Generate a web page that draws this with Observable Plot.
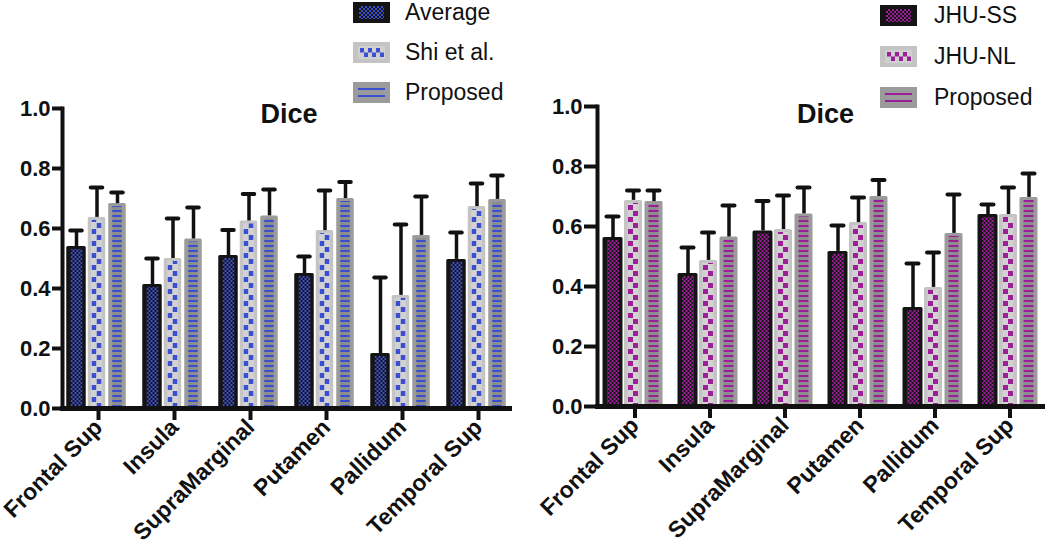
<!DOCTYPE html>
<html><head><meta charset="utf-8">
<script src="https://cdn.jsdelivr.net/npm/d3@7"></script>
<script src="https://cdn.jsdelivr.net/npm/@observablehq/plot@0.6"></script>
<style>
body{margin:0;background:#fff;font-family:"Liberation Sans",Arial,sans-serif;}
#wrap{position:relative;width:1050px;height:547px;overflow:hidden;background:#fff}
.panel{position:absolute;top:0}
.row{position:absolute;display:flex;align-items:center;white-space:nowrap;font-size:23px;color:#111;height:24px}
.row svg{display:block;flex:none}
</style></head><body>
<svg id="defs" width="0" height="0" style="position:absolute"><defs></defs></svg>
<div id="wrap"></div>
<script>
// ---------- data ----------
const regions = ["Frontal Sup", "Insula", "SupraMarginal", "Putamen", "Pallidum", "Temporal Sup"];
const yTicks = [0, 0.2, 0.4, 0.6, 0.8, 1.0];
const titleText = "Dice";

const leftSeries = ["Average", "Shi et al.", "Proposed"];
const rightSeries = ["JHU-SS", "JHU-NL", "Proposed"];

const averageMean = [0.54, 0.413, 0.51, 0.45, 0.183, 0.497];
const averageSD   = [0.053, 0.087, 0.085, 0.057, 0.254, 0.09];
const shiMean     = [0.637, 0.50, 0.625, 0.593, 0.377, 0.673];
const shiSD       = [0.10, 0.133, 0.09, 0.134, 0.236, 0.077];
const proposedMean = [0.683, 0.565, 0.642, 0.70, 0.577, 0.697];
const proposedSD   = [0.037, 0.105, 0.088, 0.055, 0.13, 0.08];
const jhuSSMean   = [0.563, 0.443, 0.585, 0.517, 0.33, 0.64];
const jhuSSSD     = [0.07, 0.087, 0.10, 0.086, 0.147, 0.033];
const jhuNLMean   = [0.687, 0.487, 0.59, 0.613, 0.397, 0.64];
const jhuNLSD     = [0.033, 0.093, 0.113, 0.084, 0.116, 0.09];

// ---------- styles ----------
const BLUE = "#3a4ed0", PURPLE = "#9c1f98";
const FONT = "Liberation Sans, Arial, sans-serif";

function patternDefs(key, color) {
  return `
  <pattern id="chk-${key}" width="4" height="4" patternUnits="userSpaceOnUse"><rect width="4" height="4" fill="#151515"/><rect width="2" height="2" fill="${color}"/><rect x="2" y="2" width="2" height="2" fill="${color}"/></pattern>
  <pattern id="rowA-${key}" width="1" height="12" patternUnits="userSpaceOnUse"><rect width="1" height="12" fill="#d2d2d2"/><rect y="1" width="1" height="5" fill="${color}"/></pattern>
  <pattern id="rowB-${key}" width="1" height="12" patternUnits="userSpaceOnUse"><rect width="1" height="12" fill="#d2d2d2"/><rect y="7" width="1" height="5" fill="${color}"/></pattern>
  <pattern id="dash-${key}" width="1" height="5" patternUnits="userSpaceOnUse"><rect width="1" height="5" fill="#8d8d8d"/><rect width="1" height="2" fill="${color}"/></pattern>`;
}
document.querySelector("#defs defs").innerHTML = patternDefs("blue", BLUE) + patternDefs("purple", PURPLE);

const wrap = document.getElementById("wrap");

function makePanel(o) {
  const width = 525, height = 547;
  const means = o.means, sds = o.sds;
  const rows = [];
  o.series.forEach((s, j) => regions.forEach((r, i) => rows.push({region: r, series: s, j, mean: means[j][i], sd: sds[j][i]})));
  const sub = j => rows.filter(d => d.j === j);
  const B = (width - o.marginLeft - o.marginRight) / regions.length;
  const offs = [-22, -1.5, 19];
  const ins = w => (B - w) / 2;
  const k = o.key;
  const marks = [
    Plot.barY(sub(0), {x: "region", y: "mean", fill: "#141414", insetLeft: ins(20), insetRight: ins(20), dx: offs[0], rx: 1.5}),
    Plot.barY(sub(0), {x: "region", y: "mean", fill: `url(#chk-${k})`, insetLeft: ins(12), insetRight: ins(12), insetTop: 3, dx: offs[0] + 0.5}),
    Plot.barY(sub(1), {x: "region", y: "mean", fill: "#c4c4c4", insetLeft: ins(18), insetRight: ins(18), dx: offs[1], rx: 1.5}),
    Plot.barY(sub(1), {x: "region", y: "mean", fill: "#d2d2d2", insetLeft: ins(11), insetRight: ins(11), insetTop: 3, dx: offs[1]}),
    Plot.barY(sub(1), {x: "region", y: "mean", fill: `url(#rowA-${k})`, insetLeft: ins(5), insetRight: ins(5), insetTop: 3, dx: offs[1] - 2.5}),
    Plot.barY(sub(1), {x: "region", y: "mean", fill: `url(#rowB-${k})`, insetLeft: ins(5), insetRight: ins(5), insetTop: 3, dx: offs[1] + 2.5}),
    Plot.barY(sub(2), {x: "region", y: "mean", fill: "#9b9b9b", insetLeft: ins(18), insetRight: ins(18), dx: offs[2], rx: 1.5}),
    Plot.barY(sub(2), {x: "region", y: "mean", fill: `url(#dash-${k})`, insetLeft: ins(10), insetRight: ins(10), insetTop: 3, dx: offs[2]}),
  ];
  [0, 1, 2].forEach(j => {
    marks.push(Plot.ruleX(sub(j), {x: "region", y1: "mean", y2: d => d.mean + d.sd, dx: offs[j], stroke: "#111", strokeWidth: 3.5}));
    marks.push(Plot.tickY(sub(j), {x: "region", y: d => d.mean + d.sd, dx: offs[j], insetLeft: ins(12), insetRight: ins(12), stroke: "#111", strokeWidth: 4, strokeLinecap: "round"}));
  });
  marks.push(
    Plot.frame({anchor: "left", stroke: "#111", strokeWidth: 4, dx: o.axisDx}),
    Plot.ruleY([0], {stroke: "#111", strokeWidth: 5, insetLeft: o.axisDx - 2, insetRight: o.baseRight}),
    Plot.axisY({ticks: yTicks, tickFormat: d3.format(".1f"), tickSize: o.tickSize, tickPadding: 2, strokeWidth: 4, fontSize: 22, fontWeight: "bold", label: null, dx: o.axisDx}),
    Plot.axisX({tickSize: 12, strokeWidth: 4, tickRotate: -45, tickPadding: 3, fontSize: 23, fontWeight: "bold", label: null}),
    Plot.text([titleText], {frameAnchor: "top", dy: o.titleDy, dx: o.titleDx, lineAnchor: "middle", fontSize: 27, fontWeight: "bold", fill: "#111"})
  );
  const svg = Plot.plot({
    width, height,
    marginLeft: o.marginLeft, marginRight: o.marginRight, marginTop: o.marginTop, marginBottom: o.marginBottom,
    style: {fontFamily: FONT, background: "transparent", overflow: "visible", color: "#111"},
    x: {type: "band", domain: regions, padding: 0},
    y: {domain: [0, 1]},
    marks
  });
  const div = document.createElement("div");
  div.className = "panel";
  div.style.left = o.left + "px";
  div.appendChild(svg);
  wrap.appendChild(div);
}

function swatch(j, color, key) {
  let s = `<svg width="37" height="21">`;
  if (j === 0) {
    s += `<rect width="37" height="21" fill="#141414"/><rect x="6" y="4" width="25" height="13" fill="url(#chk-${key})"/>`;
  } else if (j === 1) {
    s += `<rect width="37" height="21" fill="#c4c4c4"/><rect x="5" y="4" width="27" height="13" fill="#d0d0d0"/>`;
    for (let c = 0; c < 6; c++) for (let r = 0; r < 2; r++) if ((r + c) % 2 === 0)
      s += `<rect x="${7 + c * 4}" y="${6 + r * 4.5}" width="4" height="4.5" fill="${color}"/>`;
  } else {
    s += `<rect width="37" height="21" fill="#9b9b9b"/><rect x="5" y="6" width="27" height="2" fill="${color}"/><rect x="5" y="13" width="27" height="2" fill="${color}"/>`;
  }
  return s + `</svg>`;
}

function legend(series, color, key, left, centers, textLeft) {
  series.forEach((name, j) => {
    const row = document.createElement("div");
    row.className = "row";
    row.style.left = left + "px";
    row.style.top = (centers[j] - 12) + "px";
    row.innerHTML = swatch(j, color, key) + `<span style="margin-left:${textLeft - left - 37}px">${name}</span>`;
    wrap.appendChild(row);
  });
}

makePanel({left: 0, key: "blue", series: leftSeries,
  means: [averageMean, shiMean, proposedMean], sds: [averageSD, shiSD, proposedSD],
  marginLeft: 58, marginRight: 8, marginTop: 108, marginBottom: 139, axisDx: 4, tickSize: 10, baseRight: 5, titleDy: 6, titleDx: 1});
makePanel({left: 525, key: "purple", series: rightSeries,
  means: [jhuSSMean, jhuNLMean, proposedMean], sds: [jhuSSSD, jhuNLSD, proposedSD],
  marginLeft: 72, marginRight: 3, marginTop: 106, marginBottom: 141, axisDx: 0, tickSize: 13, baseRight: 2, titleDy: 8, titleDx: 3});

legend(leftSeries, BLUE, "blue", 353, [12, 52, 92], 405);
legend(rightSeries, PURPLE, "purple", 880, [15, 56, 97], 934);
</script>
</body></html>
